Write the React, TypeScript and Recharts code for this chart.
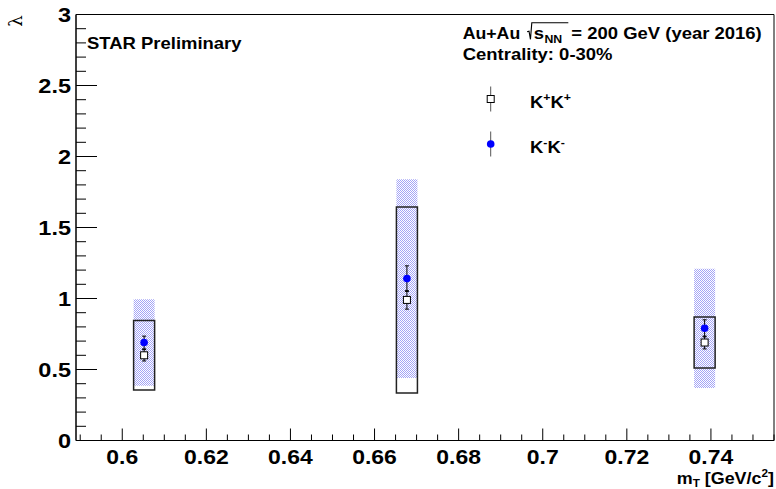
import React from "react";
import { ComposedChart, Scatter, ErrorBar, XAxis, YAxis, ReferenceArea, Legend } from "recharts";

// transverse mass bins [GeV/c^2]
const mT = [0.6052, 0.6677, 0.7385];

// K+K+ lambda, statistical and systematic errors
const lambdaKpKp = [0.6, 0.99, 0.69];
const statKpKp = [0.04, 0.065, 0.045];
const sysKpKp = [0.245, 0.655, 0.18];

// K-K- lambda, statistical and systematic errors
const lambdaKmKm = [0.69, 1.14, 0.79];
const statKmKm = [0.045, 0.09, 0.06];
const sysKmKm = [0.305, 0.7, 0.42];

// half width of the systematic boxes in mT
const sysHalfWidth = 0.0025;

const xMajorTicks = [0.6, 0.62, 0.64, 0.66, 0.68, 0.7, 0.72, 0.74];
const xTickLabels = ["0.6", "0.62", "0.64", "0.66", "0.68", "0.7", "0.72", "0.74"];
const yMajorTicks = [0, 0.5, 1, 1.5, 2, 2.5, 3];
const yTickLabels = ["0", "0.5", "1", "1.5", "2", "2.5", "3"];

const X_DOMAIN: [number, number] = [0.589, 0.755];
const Y_DOMAIN: [number, number] = [0, 3];

const W = 776;
const H = 489;
const FONT = "'Liberation Sans', Arial, Helvetica, sans-serif";
const STRETCH = 1.12;

// minor ticks: 4 per major step on x, 5 per major step on y
const xTicks: number[] = [];
for (let i = 0; i <= 33; i++) {
  const v = Number((0.59 + i * 0.005).toFixed(3));
  if (v >= X_DOMAIN[0] && v <= X_DOMAIN[1]) xTicks.push(v);
}
const yTicks: number[] = [];
for (let i = 0; i <= 30; i++) yTicks.push(Number((i * 0.1).toFixed(1)));

const near = (a: number, b: number) => Math.abs(a - b) < 1e-6;

const kpData = mT.map((x, i) => ({ x, y: lambdaKpKp[i], err: statKpKp[i] }));
const kmData = mT.map((x, i) => ({ x, y: lambdaKmKm[i], err: statKmKm[i] }));

const XTick = (props: any) => {
  const { x, y, payload } = props;
  const idx = xMajorTicks.findIndex((t) => near(t, payload.value));
  const major = idx >= 0;
  return (
    <g>
      <line x1={x} x2={x} y1={y} y2={y - (major ? 12 : 6)} stroke="#000" strokeWidth={1} />
      {major && (
        <text
          transform={`translate(${x},${y + 23}) scale(${STRETCH},1)`}
          textAnchor="middle"
          fontFamily={FONT}
          fontWeight="bold"
          fontSize={20.5}
          fill="#000"
        >
          {xTickLabels[idx]}
        </text>
      )}
    </g>
  );
};

const YTick = (props: any) => {
  const { x, y, payload } = props;
  const idx = yMajorTicks.findIndex((t) => near(t, payload.value));
  const major = idx >= 0;
  return (
    <g>
      <line x1={x} x2={x + (major ? 21 : 10)} y1={y} y2={y} stroke="#000" strokeWidth={1} />
      {major && (
        <text
          transform={`translate(${x - 5},${y + 7.5}) scale(${STRETCH},1)`}
          textAnchor="end"
          fontFamily={FONT}
          fontWeight="bold"
          fontSize={21}
          fill="#000"
        >
          {yTickLabels[idx]}
        </text>
      )}
    </g>
  );
};

const OpenSquare = (props: any) => {
  const { cx, cy } = props;
  return <rect x={cx - 3.5} y={cy - 3.5} width={7} height={7} fill="#fff" stroke="#000" strokeWidth={1} />;
};

const BlueDot = (props: any) => {
  const { cx, cy } = props;
  return <circle cx={cx} cy={cy} r={3.8} fill="#0000ff" />;
};

const renderLegend = (props: any) => {
  const payload = props.payload || [];
  return (
    <svg width={160} height={80} style={{ overflow: "visible" }}>
      {payload.map((entry: any, i: number) => {
        const cy = 17 + i * 45;
        const name = String(entry.value);
        const charge = name.charAt(1);
        return (
          <g key={name}>
            <line x1={10.7} x2={10.7} y1={cy - 12.5} y2={cy + 12.5} stroke="#555" strokeWidth={1} />
            {i === 0 ? (
              <rect x={7.2} y={cy - 3.5} width={7} height={7} fill="#fff" stroke="#000" />
            ) : (
              <circle cx={10.7} cy={cy} r={3.8} fill="#0000ff" />
            )}
            <text
              transform={`translate(50,${cy + 8.5}) scale(${STRETCH},1)`}
              fontFamily={FONT}
              fontWeight="bold"
              fontSize={16.5}
              fill="#000"
            >
              K
              <tspan fontSize={11} dy={-7}>{charge}</tspan>
              <tspan dy={7}>K</tspan>
              <tspan fontSize={11} dy={-7}>{charge}</tspan>
            </text>
          </g>
        );
      })}
    </svg>
  );
};

const txt = {
  fontFamily: FONT,
  fontWeight: "bold" as const,
  fill: "#000",
};

export default function App() {
  return (
    <div style={{ position: "absolute", left: 0, top: 0, width: W, height: H, background: "#fff" }}>
      <ComposedChart width={W} height={H} margin={{ top: 14.5, right: 2, left: 0, bottom: 0 }}>
        <XAxis
          type="number"
          dataKey="x"
          domain={X_DOMAIN}
          allowDataOverflow
          ticks={xTicks}
          interval={0}
          tick={<XTick />}
          tickLine={false}
          tickSize={0}
          tickMargin={0}
          height={48.5}
          axisLine={{ stroke: "#000", strokeWidth: 1 }}
        />
        <YAxis
          type="number"
          dataKey="y"
          domain={Y_DOMAIN}
          allowDataOverflow
          ticks={yTicks}
          interval={0}
          tick={<YTick />}
          tickLine={false}
          tickSize={0}
          tickMargin={0}
          width={76}
          axisLine={{ stroke: "#000", strokeWidth: 1 }}
        />

        {/* K-K- systematic bands (hatched) */}
        {mT.map((x, i) => (
          <ReferenceArea
            key={`km-sys-${i}`}
            x1={x - sysHalfWidth}
            x2={x + sysHalfWidth}
            y1={lambdaKmKm[i] - sysKmKm[i]}
            y2={lambdaKmKm[i] + sysKmKm[i]}
            fill="url(#sysHatch)"
            fillOpacity={1}
            stroke="none"
          />
        ))}
        {/* K+K+ systematic boxes (open) */}
        {mT.map((x, i) => (
          <ReferenceArea
            key={`kp-sys-${i}`}
            x1={x - sysHalfWidth}
            x2={x + sysHalfWidth}
            y1={lambdaKpKp[i] - sysKpKp[i]}
            y2={lambdaKpKp[i] + sysKpKp[i]}
            fill="none"
            fillOpacity={0}
            stroke="#222"
            strokeWidth={1.5}
          />
        ))}
        {/* frame */}
        <ReferenceArea
          x1={X_DOMAIN[0]}
          x2={X_DOMAIN[1]}
          y1={Y_DOMAIN[0]}
          y2={Y_DOMAIN[1]}
          fill="none"
          fillOpacity={0}
          stroke="#000"
          strokeWidth={1}
        />

        <Scatter name="K+K+" data={kpData} shape={<OpenSquare />} isAnimationActive={false}>
          <ErrorBar dataKey="err" direction="y" width={2} stroke="#000" strokeWidth={1} />
        </Scatter>
        <Scatter name="K-K-" data={kmData} shape={<BlueDot />} isAnimationActive={false}>
          <ErrorBar dataKey="err" direction="y" width={2} stroke="#000" strokeWidth={1} />
        </Scatter>

        <Legend
          layout="horizontal"
          verticalAlign="middle"
          align="center"
          content={renderLegend}
          wrapperStyle={{ position: "absolute", left: 480, top: 82, width: 160, height: 80 }}
        />
      </ComposedChart>

      <svg
        width={W}
        height={H}
        style={{ position: "absolute", left: 0, top: 0, pointerEvents: "none" }}
      >
        <defs>
          <pattern id="sysHatch" width={2} height={2} patternUnits="userSpaceOnUse">
            <rect width={2} height={2} fill="#fff" />
            <rect x={0} y={0} width={1} height={1} fill="#a4a4f6" />
            <rect x={1} y={1} width={1} height={1} fill="#a4a4f6" />
          </pattern>
        </defs>

        {/* y axis title */}
        <text
          transform="translate(22,21) rotate(-90)"
          textAnchor="middle"
          fontFamily="'DejaVu Serif', serif"
          fontSize={18}
          fill="#000"
        >
          λ
        </text>

        <g transform={`translate(87,49.3) scale(${STRETCH},1)`}>
          <text {...txt} fontSize={16.5}>STAR Preliminary</text>
        </g>

        <g transform={`translate(462.7,39) scale(${STRETCH},1)`}>
          <text {...txt} fontSize={15.8}>Au+Au</text>
          <path d="M57.5,-7.3 L59.2,-7.8 L60.5,0.3 L61.7,-16.3 L94.3,-16.3" fill="none" stroke="#000" strokeWidth={1} />
          <text {...txt} x={63.5} fontSize={16.5}>s</text>
          <text {...txt} x={73} y={4} fontSize={11}>NN</text>
          <text {...txt} x={97} fontSize={16.5}>= 200 GeV (year 2016)</text>
        </g>
        <g transform={`translate(462.7,60) scale(${STRETCH},1)`}>
          <text {...txt} fontSize={16.5}>Centrality: 0-30%</text>
        </g>

        {/* x axis title */}
        <g transform={`translate(774,484) scale(${STRETCH},1)`}>
          <text {...txt} fontSize={16} textAnchor="end">
            m<tspan fontSize={10.5} dy={3}>T</tspan>
            <tspan dy={-3}> [GeV/c</tspan>
            <tspan fontSize={10.5} dy={-7}>2</tspan>
            <tspan dy={7}>]</tspan>
          </text>
        </g>
      </svg>
    </div>
  );
}
